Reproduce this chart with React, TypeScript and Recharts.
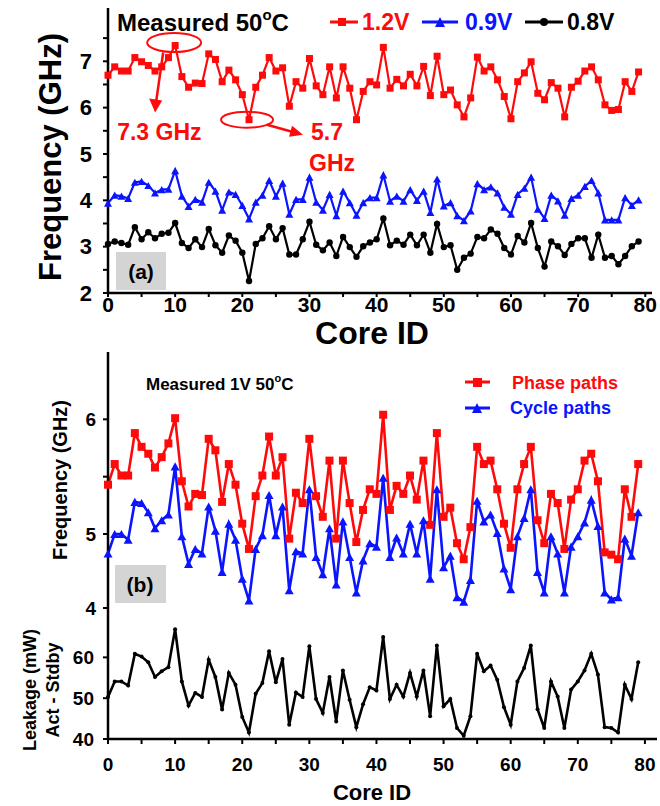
import React from "react";
import { LineChart, Line, XAxis, YAxis, ReferenceDot } from "recharts";

// ===== Colours / font =====
const RED = "#ff0a0a";
const BLUE = "#0a14ff";
const BLACK = "#000000";
const FONT = "'Liberation Sans', Arial, sans-serif";

// ===== Panel (a): frequency vs core at 3 supply voltages =====
const volt12 = [
  6.7, 6.88, 6.79, 6.79, 7.08, 6.99, 6.91, 6.79, 6.88, 7.08,
  7.34, 6.67, 6.44, 6.53, 6.52, 7.16, 7.04, 6.56, 6.81, 6.6,
  6.28, 5.74, 6.44, 6.7, 7.08, 6.79, 6.86, 6.03, 6.56, 6.42,
  7.06, 6.47, 6.28, 6.88, 6.21, 6.88, 6.42, 5.74, 6.35, 6.56,
  6.49, 7.3, 6.42, 6.61, 6.47, 6.72, 6.47, 6.89, 6.26, 7.11,
  6.28, 6.38, 6.06, 5.8, 6.21, 7.09, 6.79, 6.88, 6.6, 6.24,
  5.76, 6.56, 6.75, 6.99, 6.31, 6.17, 6.54, 6.42, 5.8, 6.44,
  6.57, 6.79, 6.88, 6.6, 6.06, 5.94, 5.96, 6.56, 6.35, 6.77,
];
const volt09 = [
  3.94, 4.11, 4.09, 4.04, 4.39, 4.41, 4.32, 4.16, 4.23, 4.24,
  4.64, 4.09, 3.87, 4.02, 3.96, 4.39, 4.2, 3.79, 4.18, 4.13,
  3.89, 3.6, 3.96, 4.11, 4.43, 4.09, 4.37, 3.7, 4.02, 4.02,
  4.5, 3.96, 3.79, 4.13, 3.67, 4.2, 3.95, 3.68, 3.95, 4.06,
  4.06, 4.55, 3.98, 4.09, 3.98, 4.23, 4.0, 4.2, 3.74, 4.46,
  3.88, 3.95, 3.67, 3.56, 3.77, 4.36, 4.23, 4.29, 4.16, 3.85,
  3.7, 4.13, 4.26, 4.5, 3.81, 3.61, 4.11, 3.99, 3.68, 4.04,
  4.11, 4.3, 4.43, 4.16, 3.58, 3.58, 3.58, 4.06, 3.89, 4.01,
];
const volt08 = [
  3.06, 3.11, 3.08, 3.04, 3.42, 3.16, 3.31, 3.18, 3.28, 3.3,
  3.51, 3.08, 2.97, 3.16, 2.99, 3.38, 3.03, 2.87, 3.24, 3.13,
  2.87, 2.26, 3.06, 3.18, 3.44, 3.16, 3.4, 2.83, 2.83, 3.16,
  3.54, 3.04, 2.92, 3.09, 2.8, 3.21, 2.99, 2.78, 3.01, 3.09,
  3.16, 3.61, 3.03, 3.13, 3.04, 3.26, 3.03, 3.26, 2.87, 3.49,
  2.99, 3.03, 2.5, 2.76, 2.85, 3.21, 3.18, 3.37, 3.28, 2.97,
  2.83, 3.23, 3.09, 3.51, 2.97, 2.57, 3.11, 3.01, 2.82, 3.06,
  3.18, 3.18, 2.76, 3.26, 2.76, 2.8, 2.62, 2.8, 3.01, 3.11,
];

// ===== Panel (b): phase / cycle path frequency at 1V =====
const phasePaths = [
  5.43, 5.61, 5.51, 5.51, 5.88, 5.76, 5.7, 5.58, 5.67, 5.79,
  6.01, 5.46, 5.24, 5.35, 5.34, 5.83, 5.73, 5.28, 5.61, 5.43,
  5.09, 4.87, 5.33, 5.51, 5.85, 5.51, 5.67, 4.96, 5.36, 5.27,
  5.83, 5.33, 5.15, 5.64, 4.96, 5.64, 5.27, 4.93, 5.21, 5.39,
  5.35, 6.04, 5.21, 5.42, 5.35, 5.51, 5.3, 5.64, 5.08, 5.88,
  5.15, 5.23, 4.92, 4.78, 5.06, 5.76, 5.61, 5.64, 5.39, 5.09,
  4.88, 5.39, 5.61, 5.76, 5.12, 4.92, 5.35, 5.27, 4.87, 5.3,
  5.39, 5.64, 5.7, 5.46, 4.84, 4.82, 4.78, 5.39, 5.15, 5.61,
];
const cyclePaths = [
  4.83, 5.0, 5.0, 4.95, 5.28, 5.27, 5.19, 5.05, 5.12, 5.17,
  5.59, 4.98, 4.74, 4.87, 4.83, 5.24, 5.03, 4.67, 5.09, 4.95,
  4.61, 4.42, 4.87, 4.99, 5.34, 4.99, 5.24, 4.51, 4.85, 4.83,
  5.39, 4.8, 4.65, 5.05, 4.56, 5.11, 4.8, 4.49, 4.77, 4.92,
  4.89, 5.49, 4.8, 4.97, 4.83, 5.09, 4.83, 5.12, 4.61, 5.39,
  4.71, 4.81, 4.45, 4.41, 4.6, 5.29, 5.11, 5.17, 5.01, 4.7,
  4.52, 4.98, 5.14, 5.39, 4.67, 4.49, 4.98, 4.83, 4.49, 4.89,
  4.98, 5.1, 5.3, 5.07, 4.49, 4.43, 4.45, 4.96, 4.81, 5.19,
];
const leakage = [
  50.3, 54.1, 54.1, 53.1, 60.9, 60.2, 58.8, 55.2, 56.6, 57.6,
  66.9, 54.1, 48.2, 51.3, 50.3, 59.4, 55.2, 47.2, 56.2, 53.3,
  45.4, 41.6, 51.1, 53.7, 61.5, 53.9, 59.6, 43.5, 51.4, 50.3,
  62.7, 49.8, 46.4, 55.2, 44.3, 56.8, 49.6, 42.9, 48.5, 52.7,
  51.9, 65.0, 49.8, 53.3, 50.4, 56.2, 50.4, 56.8, 45.6, 62.9,
  48.0, 49.8, 42.7, 40.8, 45.6, 60.9, 56.6, 58.0, 54.5, 47.8,
  43.5, 54.1, 57.4, 62.9, 47.3, 42.7, 54.1, 50.4, 42.7, 52.1,
  54.1, 56.8, 60.9, 55.8, 42.9, 42.7, 41.6, 53.3, 49.8, 58.8,
];

// ===== Ticks =====
const coreTicks = [0, 5, 10, 15, 20, 25, 30, 35, 40, 45, 50, 55, 60, 65, 70, 75, 80];
const freqTicksA = [2, 2.5, 3, 3.5, 4, 4.5, 5, 5.5, 6, 6.5, 7, 7.5];
const freqTicksB = [4.355, 5, 5.5, 6];
const leakTicks = [40, 50, 60];

const rowsA = volt12.map((v, i) => ({ core: i, v12: v, v09: volt09[i], v08: volt08[i] }));
const rowsB = phasePaths.map((v, i) => ({ core: i, phase: v, cycle: cyclePaths[i] }));
const rowsC = leakage.map((v, i) => ({ core: i, leak: v }));

// ===== Marker shapes =====
const square = (size: number, color: string) => (p: any) => {
  if (p.cx == null || p.cy == null) return <g key={p.index} />;
  return <rect key={p.index} x={p.cx - size / 2} y={p.cy - size / 2} width={size} height={size} fill={color} />;
};
const triangle = (size: number, color: string) => (p: any) => {
  if (p.cx == null || p.cy == null) return <g key={p.index} />;
  const h = size * 0.9;
  return (
    <polygon
      key={p.index}
      points={`${p.cx - size / 2},${p.cy + h / 2} ${p.cx + size / 2},${p.cy + h / 2} ${p.cx},${p.cy - h / 2}`}
      fill={color}
    />
  );
};
const circle = (r: number, color: string) => (p: any) => {
  if (p.cx == null || p.cy == null) return <g key={p.index} />;
  return <circle key={p.index} cx={p.cx} cy={p.cy} r={r} fill={color} />;
};

// ===== Annotations on panel (a) =====
const PeakNote = ({ cx, cy }: any) => (
  <g>
    <ellipse cx={cx - 1} cy={cy - 3} rx={27} ry={9.5} fill="none" stroke={RED} strokeWidth={2} />
    <line x1={cx - 12} y1={cy + 7} x2={cx - 19} y2={cy + 56} stroke={RED} strokeWidth={2.5} />
    <polygon points={`${cx - 26},${cy + 53} ${cx - 20},${cy + 67} ${cx - 13},${cy + 55}`} fill={RED} />
    <text x={cx - 58} y={cy + 94} fill={RED} fontSize={23} fontWeight={700} fontFamily={FONT}>
      7.3 GHz
    </text>
  </g>
);
const DipNote = ({ cx, cy }: any) => (
  <g>
    <ellipse cx={cx - 2} cy={cy} rx={26} ry={8} fill="none" stroke={RED} strokeWidth={2} />
    <line x1={cx + 18} y1={cy + 5} x2={cx + 43} y2={cy + 12} stroke={RED} strokeWidth={2.5} />
    <polygon points={`${cx + 40},${cy + 17} ${cx + 54},${cy + 15} ${cx + 43},${cy + 6}`} fill={RED} />
    <text x={cx + 62} y={cy + 20} fill={RED} fontSize={23} fontWeight={700} fontFamily={FONT}>
      5.7
    </text>
    <text x={cx + 60} y={cy + 51} fill={RED} fontSize={23} fontWeight={700} fontFamily={FONT}>
      GHz
    </text>
  </g>
);

const tickStyle = (size: number) => ({ fontSize: size, fontWeight: 700, fill: BLACK, fontFamily: FONT });
const labelEvery10 = (v: number) => (v % 10 === 0 ? String(v) : "");

// ===== Text, legends and tags drawn on top =====
const Overlay = () => (
  <svg
    width={660}
    height={806}
    style={{ position: "absolute", left: 0, top: 0, pointerEvents: "none" }}
    fontFamily={FONT}
    fontWeight={700}
  >
    {/* panel (a) */}
    <text x={50} y={157} fontSize={31} textAnchor="middle" dominantBaseline="central" transform="rotate(-90 50 157)">
      Frequency (GHz)
    </text>
    <text x={372} y={333} fontSize={32} textAnchor="middle" dominantBaseline="central">
      Core ID
    </text>
    <text x={117} y={31} fontSize={24}>
      Measured 50<tspan fontSize={15} dy={-11}>o</tspan>
      <tspan dy={11}>C</tspan>
    </text>
    <line x1={330} y1={22} x2={358} y2={22} stroke={RED} strokeWidth={3} />
    <rect x={338} y={18} width={8} height={8} fill={RED} />
    <text x={362} y={30} fontSize={23} fill={RED}>1.2V</text>
    <line x1={422} y1={22} x2={458} y2={22} stroke={BLUE} strokeWidth={3} />
    <polygon points="435,27 445,27 440,17" fill={BLUE} />
    <text x={465} y={30} fontSize={23} fill={BLUE}>0.9V</text>
    <line x1={525} y1={22} x2={563} y2={22} stroke={BLACK} strokeWidth={3} />
    <circle cx={544} cy={22} r={4} fill={BLACK} />
    <text x={567} y={30} fontSize={23}>0.8V</text>
    <rect x={116} y={252} width={50} height={38} fill="#d4d4d4" />
    <text x={141} y={271} fontSize={21} textAnchor="middle" dominantBaseline="central">(a)</text>

    {/* panel (b) */}
    <text x={60} y={480} fontSize={20} textAnchor="middle" dominantBaseline="central" transform="rotate(-90 60 480)">
      Frequency (GHz)
    </text>
    <text x={146} y={390} fontSize={17}>
      Measured 1V 50<tspan fontSize={11} dy={-8}>o</tspan>
      <tspan dy={8}>C</tspan>
    </text>
    <line x1={465} y1={382} x2={490} y2={382} stroke={RED} strokeWidth={3} />
    <rect x={473} y={378} width={9} height={9} fill={RED} />
    <text x={512} y={389} fontSize={18} fill={RED}>Phase paths</text>
    <line x1={465} y1={408} x2={490} y2={408} stroke={BLUE} strokeWidth={3} />
    <polygon points="472,413 482,413 477,403" fill={BLUE} />
    <text x={510} y={414} fontSize={18} fill={BLUE}>Cycle paths</text>
    <rect x={115} y={565} width={51} height={38} fill="#d4d4d4" />
    <text x={140} y={584} fontSize={21} textAnchor="middle" dominantBaseline="central">(b)</text>

    {/* leakage panel */}
    <text x={30} y={690} fontSize={18} textAnchor="middle" dominantBaseline="central" transform="rotate(-90 30 690)">
      Leakage (mW)
    </text>
    <text x={53} y={690} fontSize={18} textAnchor="middle" dominantBaseline="central" transform="rotate(-90 53 690)">
      Act - Stdby
    </text>
    <text x={372} y={792} fontSize={22} textAnchor="middle" dominantBaseline="central">
      Core ID
    </text>
  </svg>
);

export default function App() {
  return (
    <div style={{ position: "absolute", left: 0, top: 0, width: 660, height: 806, background: "#fff", fontFamily: FONT }}>
      {/* ===== (a) ===== */}
      <div style={{ position: "absolute", left: 0, top: 0 }}>
        <LineChart width={660} height={340} data={rowsA} margin={{ top: 8, right: 8, left: 48, bottom: 7 }}>
          <XAxis
            dataKey="core"
            type="number"
            domain={[0, 81]}
            ticks={coreTicks}
            tickFormatter={labelEvery10}
            tick={tickStyle(21)}
            tickSize={4}
            tickMargin={0}
            tickLine={{ stroke: BLACK, strokeWidth: 2 }}
            axisLine={{ stroke: BLACK, strokeWidth: 2.5 }}
            height={40}
            interval={0}
          />
          <XAxis xAxisId="top" orientation="top" type="number" domain={[0, 81]} tick={false} tickLine={false} axisLine={{ stroke: "#8a8a8a", strokeWidth: 2 }} height={0} />
          <YAxis
            type="number"
            domain={[2, 8.15]}
            ticks={freqTicksA}
            tickFormatter={(v: number) => (v % 1 === 0 ? String(v) : "")}
            tick={tickStyle(22)}
            tickSize={5}
            tickMargin={11}
            tickLine={{ stroke: BLACK, strokeWidth: 2 }}
            axisLine={{ stroke: BLACK, strokeWidth: 2.5 }}
            width={60}
            interval={0}
            allowDataOverflow
          />
          <YAxis yAxisId="right" orientation="right" domain={[0, 1]} tick={false} tickLine={false} axisLine={{ stroke: "#8a8a8a", strokeWidth: 2 }} width={0} />
          <Line dataKey="v12" stroke={RED} strokeWidth={2.2} dot={square(7, RED)} isAnimationActive={false} />
          <Line dataKey="v09" stroke={BLUE} strokeWidth={2.2} dot={triangle(8, BLUE)} isAnimationActive={false} />
          <Line dataKey="v08" stroke={BLACK} strokeWidth={2.2} dot={circle(3.2, BLACK)} isAnimationActive={false} />
          <ReferenceDot x={10} y={volt12[10]} shape={(p: any) => <PeakNote {...p} />} />
          <ReferenceDot x={21} y={volt12[21]} shape={(p: any) => <DipNote {...p} />} />
        </LineChart>
      </div>

      {/* ===== (b) ===== */}
      <div style={{ position: "absolute", left: 0, top: 340 }}>
        <LineChart width={660} height={280} data={rowsB} margin={{ top: 12, right: 3, left: 48, bottom: 12 }}>
          <XAxis dataKey="core" type="number" domain={[0, 81.8]} tick={false} tickLine={false} axisLine={{ stroke: BLACK, strokeWidth: 3 }} height={0} />
          <XAxis xAxisId="top" orientation="top" type="number" domain={[0, 81.8]} tick={false} tickLine={false} axisLine={{ stroke: BLACK, strokeWidth: 2 }} height={0} />
          <YAxis
            type="number"
            domain={[4.355, 6.587]}
            ticks={freqTicksB}
            tickFormatter={(v: number) => (v < 4.5 ? "4" : v % 1 === 0 ? String(v) : "")}
            tick={tickStyle(19)}
            tickSize={5}
            tickMargin={7}
            tickLine={{ stroke: BLACK, strokeWidth: 2 }}
            axisLine={{ stroke: BLACK, strokeWidth: 2.5 }}
            width={60}
            interval={0}
            allowDataOverflow
          />
          <YAxis yAxisId="right" orientation="right" domain={[0, 1]} tick={false} tickLine={false} axisLine={{ stroke: BLACK, strokeWidth: 2 }} width={0} />
          <Line dataKey="phase" stroke={RED} strokeWidth={2.6} dot={square(8, RED)} isAnimationActive={false} />
          <Line dataKey="cycle" stroke={BLUE} strokeWidth={2.6} dot={triangle(9, BLUE)} isAnimationActive={false} />
        </LineChart>
      </div>

      {/* ===== leakage ===== */}
      <div style={{ position: "absolute", left: 0, top: 600 }}>
        <LineChart width={660} height={206} data={rowsC} margin={{ top: 8, right: 3, left: 48, bottom: 27 }}>
          <XAxis
            dataKey="core"
            type="number"
            domain={[0, 81.8]}
            ticks={coreTicks}
            tickFormatter={labelEvery10}
            tick={tickStyle(19)}
            tickSize={5}
            tickMargin={14}
            tickLine={{ stroke: BLACK, strokeWidth: 2 }}
            axisLine={{ stroke: BLACK, strokeWidth: 2.5 }}
            height={40}
            interval={0}
          />
          <XAxis xAxisId="top" orientation="top" type="number" domain={[0, 81.8]} tick={false} tickLine={false} axisLine={{ stroke: BLACK, strokeWidth: 3 }} height={0} />
          <YAxis
            type="number"
            domain={[40, 72.1]}
            ticks={leakTicks}
            tick={tickStyle(19)}
            tickSize={5}
            tickMargin={9}
            tickLine={{ stroke: BLACK, strokeWidth: 2 }}
            axisLine={{ stroke: BLACK, strokeWidth: 2.5 }}
            width={60}
            interval={0}
            allowDataOverflow
          />
          <YAxis yAxisId="right" orientation="right" domain={[0, 1]} tick={false} tickLine={false} axisLine={{ stroke: BLACK, strokeWidth: 2 }} width={0} />
          <Line dataKey="leak" stroke={BLACK} strokeWidth={2.6} dot={circle(2, BLACK)} isAnimationActive={false} />
        </LineChart>
      </div>

      <Overlay />
    </div>
  );
}
